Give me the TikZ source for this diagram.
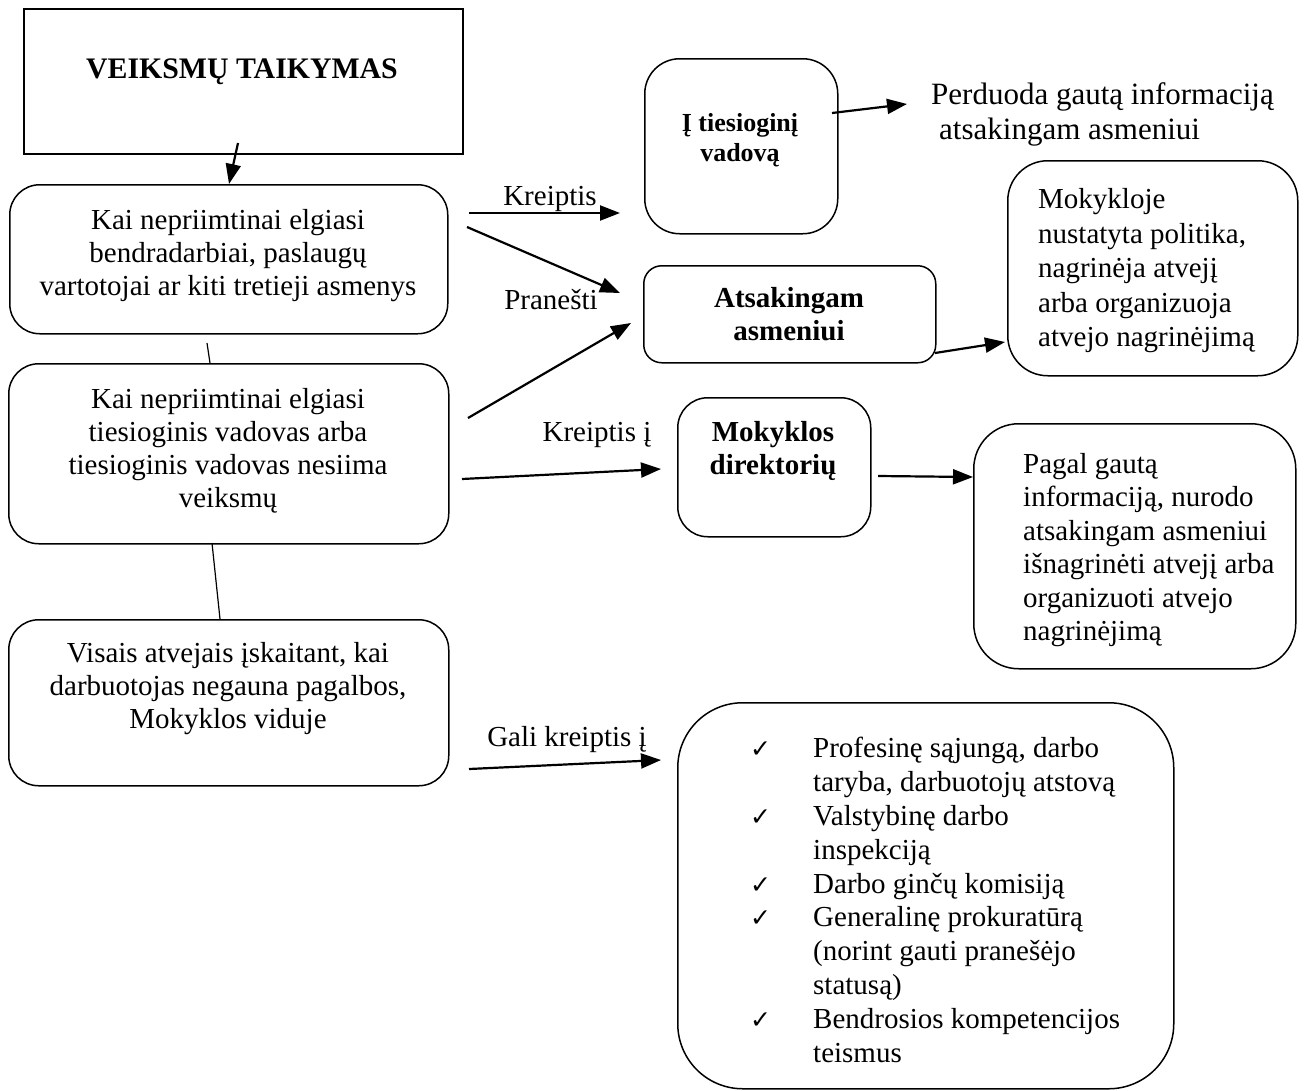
\documentclass[tikz,border=0pt]{standalone}
\usepackage{fontspec}
\setmainfont{Liberation Serif}
\newfontfamily\checkfont{DejaVu Sans}
\usetikzlibrary{arrows.meta}
\begin{document}
\begin{tikzpicture}[x=1pt,y=-1pt,
  boxr/.style={draw, line width=1.5pt, inner sep=0pt, anchor=north west},
  txt/.style={font=\fontsize{29}{33}\selectfont, align=center, inner sep=0pt},
  txtl/.style={font=\fontsize{29}{33.5}\selectfont, align=left, inner sep=0pt, anchor=west},
  btxt/.style={font=\fontsize{29}{33}\selectfont\bfseries, align=center, inner sep=0pt},
  lbl/.style={font=\fontsize{29}{33}\selectfont, inner sep=0pt},
  arr/.style={line width=2.2pt, -{Triangle[length=20pt,width=15pt]}},
  ln/.style={line width=1.2pt}]
\useasboundingbox (0,0) rectangle (1308,1090);

% boxes
\node[boxr, minimum width=439pt, minimum height=145pt] (b1) at (23,8) {};
\node[boxr, rounded corners=30pt, minimum width=438pt, minimum height=149pt] (b2) at (9,184) {};
\node[boxr, rounded corners=30pt, minimum width=440pt, minimum height=180pt] (b3) at (8,363) {};
\node[boxr, rounded corners=30pt, minimum width=440pt, minimum height=166pt] (b4) at (8,619) {};
\node[boxr, rounded corners=35pt, minimum width=193pt, minimum height=175pt] (bv) at (644,58) {};
\node[boxr, rounded corners=18pt, minimum width=292pt, minimum height=97pt] (ba) at (643,265) {};
\node[boxr, rounded corners=40pt, minimum width=290pt, minimum height=215pt] (bm) at (1007,160) {};
\node[boxr, rounded corners=30pt, minimum width=193pt, minimum height=139pt] (bd) at (677,397) {};
\node[boxr, rounded corners=45pt, minimum width=322pt, minimum height=245pt] (bp) at (973,423) {};
\node[boxr, rounded corners=65pt, minimum width=496pt, minimum height=386pt] (bg) at (677,702) {};

% texts
\node[btxt, font=\fontsize{29.8}{33}\selectfont\bfseries] (t1) at (242,72) {VEIKSMŲ TAIKYMAS};
\node[txt] (t2) at (228,256) {Kai nepriimtinai elgiasi\\bendradarbiai, paslaugų\\vartotojai ar kiti tretieji asmenys};
\node[txt] (t3) at (228,451) {Kai nepriimtinai elgiasi\\tiesioginis vadovas arba\\tiesioginis vadovas nesiima\\veiksmų};
\node[txt] (t4) at (228,689) {Visais atvejais įskaitant, kai\\darbuotojas negauna pagalbos,\\Mokyklos viduje};
\node[btxt, font=\fontsize{26}{30}\selectfont\bfseries] (tv) at (740,140) {Į tiesioginį\\vadovą};
\node[txtl, font=\fontsize{31}{35}\selectfont] (tpe) at (931,114) {Perduoda gautą informaciją\\\hspace*{8pt}atsakingam asmeniui};
\node[btxt] (ta) at (789,314) {Atsakingam\\asmeniui};
\node[txtl, font=\fontsize{29}{34.5}\selectfont] (tm) at (1038,271) {Mokykloje\\nustatyta politika,\\nagrinėja atvejį\\arba organizuoja\\atvejo nagrinėjimą};
\node[btxt] (td) at (773,451) {Mokyklos\\direktorių};
\node[txtl] (tp) at (1023,550) {Pagal gautą\\informaciją, nurodo\\atsakingam asmeniui\\išnagrinėti atvejį arba\\organizuoti atvejo\\nagrinėjimą};
\newcommand{\chk}{\makebox[63pt][l]{\checkfont\fontsize{25}{25}\selectfont ✓}}
\newcommand{\ind}{\hspace*{63pt}}
\node[txtl, font=\fontsize{29}{33.8}\selectfont] (tg) at (750,900) {\chk Profesinę sąjungą, darbo\\\ind taryba, darbuotojų atstovą\\\chk Valstybinę darbo\\\ind inspekciją\\\chk Darbo ginčų komisiją\\\chk Generalinę prokuratūrą\\\ind (norint gauti pranešėjo\\\ind statusą)\\\chk Bendrosios kompetencijos\\\ind teismus};

% labels
\node[lbl] (l1) at (550,199) {Kreiptis};
\node[lbl] (l2) at (551,300) {Pranešti};
\node[lbl] (l3) at (597,435) {Kreiptis į};
\node[lbl] (l4) at (567,740) {Gali kreiptis į};

% connector end points
\coordinate (a1s) at (238,143); \coordinate (a1e) at (229,184);
\coordinate (a2s) at (469,213); \coordinate (a2e) at (620,213);
\coordinate (a3s) at (467,227); \coordinate (a3e) at (620,293);
\coordinate (a4s) at (468,418); \coordinate (a4e) at (631,323);
\coordinate (a5s) at (462,479); \coordinate (a5e) at (661,469);
\coordinate (a6s) at (832,113); \coordinate (a6e) at (907,104);
\coordinate (a7s) at (935,353); \coordinate (a7e) at (1005,342);
\coordinate (a8s) at (878,476); \coordinate (a8e) at (973,477);
\coordinate (a9s) at (469,769); \coordinate (a9e) at (661,760);
\coordinate (l1s) at (207,343); \coordinate (l1e) at (210,363);
\coordinate (l2s) at (212,543); \coordinate (l2e) at (220,619);

\draw[arr] (a1s) -- (a1e);
\draw[arr] (a2s) -- (a2e);
\draw[arr] (a3s) -- (a3e);
\draw[arr] (a4s) -- (a4e);
\draw[arr] (a5s) -- (a5e);
\draw[arr] (a6s) -- (a6e);
\draw[arr] (a7s) -- (a7e);
\draw[arr] (a8s) -- (a8e);
\draw[arr] (a9s) -- (a9e);
\draw[ln] (l1s) -- (l1e);
\draw[ln] (l2s) -- (l2e);
\end{tikzpicture}
\end{document}
